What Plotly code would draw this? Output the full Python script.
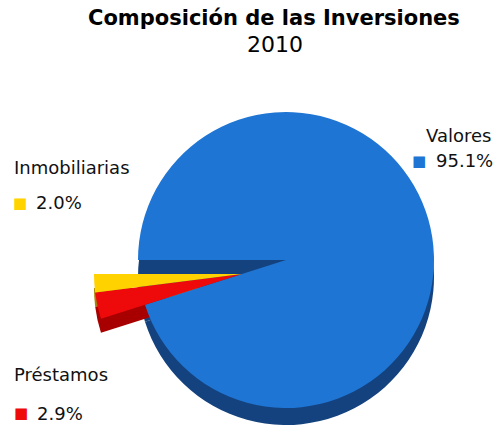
import plotly.graph_objects as go

# Data (order around the pie, clockwise from 9 o'clock)
categories = ["Valores", "Préstamos", "Inmobiliarias"]
values = [95.1, 2.9, 2.0]
pct_labels = ["95.1%", "2.9%", "2.0%"]
title_text = "Composición de las Inversiones"
subtitle_text = "2010"

# Styles
top_colors = {"Inmobiliarias": "#FFD200", "Préstamos": "#EE0A0A", "Valores": "#1E75D3"}
side_colors = {"Inmobiliarias": "#A88400", "Préstamos": "#A80000", "Valores": "#14427E"}
CLEAR = "rgba(0,0,0,0)"
W, H = 499, 436
FONT = "DejaVu Sans"


def px_dom(cx, cy, r):
    x = [(cx - r) / W, (cx + r) / W]
    y = [1 - (cy + r) / H, 1 - (cy - r) / H]
    return dict(x=[max(0, x[0]), min(1, x[1])], y=[max(0, y[0]), min(1, y[1])])


def pie(colors, domain):
    return go.Pie(
        labels=categories,
        values=values,
        sort=False,
        direction="clockwise",
        rotation=-90,
        marker=dict(colors=colors, line=dict(width=0)),
        textinfo="none",
        hoverinfo="label+percent",
        domain=domain,
        showlegend=False,
    )


R = 148
main_c = (286, 260)
main_depth = 17
slice_c = (242, 274)
slice_depth = 14

main_keep = ["Valores"]
fig = go.Figure()
# side walls (depth)
fig.add_trace(pie([side_colors["Valores"] for c in categories],
                  px_dom(main_c[0], main_c[1] + main_depth, R)))
fig.add_trace(pie([CLEAR if c in main_keep else side_colors[c] for c in categories],
                  px_dom(slice_c[0], slice_c[1] + slice_depth, R)))
# top surfaces
fig.add_trace(pie([top_colors[c] if c in main_keep else CLEAR for c in categories],
                  px_dom(main_c[0], main_c[1], R)))
fig.add_trace(pie([CLEAR if c in main_keep else top_colors[c] for c in categories],
                  px_dom(slice_c[0], slice_c[1], R)))

ann = []


def add_text(text, x, y, size=18, color="#111111", xanchor="left", bold=False):
    ann.append(dict(text=f"<b>{text}</b>" if bold else text, x=x / W, y=1 - y / H,
                    xref="paper", yref="paper", xanchor=xanchor, yanchor="middle",
                    showarrow=False, font=dict(family=FONT, size=size, color=color)))


add_text(title_text, 274, 18, size=21, color="#000000", xanchor="center", bold=True)
add_text(subtitle_text, 275, 44, size=22, color="#000000", xanchor="center")

# label positions (pixels): name x, name y, square x, row y, pct x
label_pos = {
    "Inmobiliarias": (12, 167, 11, 203, 34),
    "Valores": (424, 135, 410, 161, 434),
    "Préstamos": (12, 374, 12, 413, 35),
}
for cat, pct in zip(categories, pct_labels):
    lx, ly, sx, sy, tx = label_pos[cat]
    add_text(cat, lx, ly)
    add_text("■", sx, sy, size=15, color=top_colors[cat])
    add_text(pct, tx, sy)

fig.update_layout(
    width=W, height=H,
    margin=dict(l=0, r=0, t=0, b=0),
    paper_bgcolor="white", plot_bgcolor="white",
    annotations=ann,
)

fig.write_html(
    "out.html",
    config={"displayModeBar": False},
    post_script="document.body.style.margin='0';document.body.style.overflow='hidden';",
)
